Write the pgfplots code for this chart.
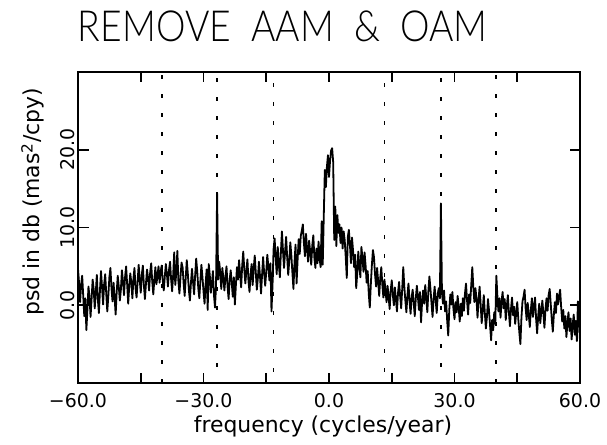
\documentclass[border=0pt]{standalone}
\usepackage{fontspec}
\setmainfont{DejaVu Sans}
\newfontfamily\titlefont{Lato Light}[FakeStretch=0.87]
\usepackage{pgfplots}
\pgfplotsset{compat=1.18}

\begin{document}
\begin{tikzpicture}
\begin{axis}[
  scale only axis, width=502bp, height=311bp,
  at={(0,0)}, anchor=south west,
  xmin=-60, xmax=60, ymin=-10, ymax=30,
  xtick={-60,-45,...,60},
  xticklabels={−60.0,,−30.0,,0.0,,30.0,,60.0},
  ytick={0,10,20}, yticklabels={0.0,10.0,20.0},
  tick align=inside, xtick pos=both, ytick pos=both,
  xticklabel pos=lower, yticklabel pos=left,
  major tick length=10.5bp,
  tick style={black, line width=1.6bp},
  axis line style={line width=2.2bp},
  xticklabel style={font=\fontsize{19}{22}\selectfont, anchor=base, yshift=-24bp},
  yticklabel style={font=\fontsize{19}{22}\selectfont, xshift=-3bp, rotate=90, anchor=base},
  xlabel={frequency (cycles/year)},
  xlabel style={at={(axis description cs:0.488,0)}, anchor=base, yshift=-49bp,
    font=\fontsize{22}{26}\selectfont},
  ylabel={psd in db (mas\textsuperscript{2}/cpy)},
  ylabel style={at={([xshift=-38bp]axis description cs:0,0.582)}, anchor=base,
    font=\fontsize{22}{26}\selectfont},
  title={REMOVE\ \ AAM\ \ \&\ \ OAM},
  title style={at={(axis description cs:0.408,1)}, anchor=base, yshift=25bp,
    font=\titlefont\fontsize{43}{50}\selectfont},
]
% tidal reference frequencies (cycles/year)
\addplot[black, mark=none, line width=2bp, dash pattern=on 4bp off 15bp] coordinates {(-40,-10)(-40,30)};
\addplot[black, mark=none, line width=2bp, dash pattern=on 4bp off 15bp] coordinates {(40,-10)(40,30)};
\addplot[black, mark=none, line width=2bp, dash pattern=on 4bp off 15bp, dash phase=3bp] coordinates {(-26.75,-10)(-26.75,30)};
\addplot[black, mark=none, line width=2bp, dash pattern=on 4bp off 15bp, dash phase=3bp] coordinates {(26.75,-10)(26.75,30)};
\addplot[black, mark=none, line width=1.7bp, dash pattern=on 3.5bp off 15.5bp, dash phase=8bp] coordinates {(-13.3,-10)(-13.3,30)};
\addplot[black, mark=none, line width=1.7bp, dash pattern=on 3.5bp off 15.5bp, dash phase=8bp] coordinates {(13.3,-10)(13.3,30)};

% power spectral density, dB
\addplot[black, mark=none, line width=1.8bp, line join=round] coordinates {
(-60,4.7)(-59.75,2.9)(-59.5,0.4)(-59.25,2.6)(-59,3.8)(-58.75,1.2)(-58.5,-1.4)(-58.25,0.9)(-58,-3.2)(-57.75,-0.6)
(-57.5,2.4)(-57.25,1.1)(-57,-1.5)(-56.75,0.8)(-56.5,3.3)(-56.25,2.1)(-56,-0.4)(-55.75,1.6)(-55.5,3.9)(-55.25,0.7)
(-55,-1.0)(-54.75,1.9)(-54.5,4.4)(-54.25,2.3)(-54,0.1)(-53.75,2.7)(-53.5,4.0)(-53.25,1.5)(-53,-0.8)(-52.75,1.2)
(-52.5,3.6)(-52.25,4.8)(-52,2.2)(-51.75,0.5)(-51.5,2.9)(-51.25,1.0)(-51,-1.2)(-50.75,1.7)(-50.5,3.8)(-50.25,2.4)
(-50,0.6)(-49.75,2.0)(-49.5,4.5)(-49.25,3.1)(-49,1.3)(-48.75,3.6)(-48.5,5.0)(-48.25,2.7)(-48,0.2)(-47.75,2.5)
(-47.5,4.1)(-47.25,2.9)(-47,0.9)(-46.75,3.4)(-46.5,4.8)(-46.25,2.2)(-46,1.0)(-45.75,3.0)(-45.5,5.2)(-45.25,3.3)
(-45,1.6)(-44.75,3.9)(-44.5,5.1)(-44.25,2.6)(-44,0.8)(-43.75,2.8)(-43.5,4.6)(-43.25,3.5)(-43,1.9)(-42.75,4.2)
(-42.5,5.4)(-42.25,3.0)(-42,1.4)(-41.75,3.3)(-41.5,4.9)(-41.25,2.7)(-41,3.8)(-40.75,5.0)(-40.5,2.9)(-40.25,4.3)
(-40,5.1)(-39.75,3.2)(-39.5,1.9)(-39.25,3.7)(-39,5.3)(-38.75,4.0)(-38.5,2.4)(-38.25,4.5)(-38,5.6)(-37.75,3.4)
(-37.5,1.8)(-37.25,3.9)(-37,6.8)(-36.75,2.6)(-36.5,4.2)(-36.25,7.0)(-36,3.1)(-35.75,1.5)(-35.5,3.6)(-35.25,5.5)
(-35,4.9)(-34.75,2.8)(-34.5,1.2)(-34.25,3.5)(-34,5.8)(-33.75,4.1)(-33.5,2.0)(-33.25,0.6)(-33,2.9)(-32.75,4.7)
(-32.5,3.0)(-32.25,1.4)(-32,3.8)(-31.75,6.0)(-31.5,4.4)(-31.25,2.2)(-31,0.9)(-30.75,3.1)(-30.5,5.2)(-30.25,3.6)
(-30,1.8)(-29.75,0.2)(-29.5,2.7)(-29.25,4.6)(-29,-0.6)(-28.75,5.3)(-28.5,3.9)(-28.25,1.6)(-28,2.8)(-27.75,4.4)
(-27.5,1.3)(-27.25,-0.3)(-27,2.6)(-26.75,14.4)(-26.5,3.3)(-26.25,5.6)(-26,4.2)(-25.75,2.1)(-25.5,4.8)(-25.25,3.5)
(-25,1.9)(-24.75,3.7)(-24.5,5.0)(-24.25,2.4)(-24,0.8)(-23.75,3.2)(-23.5,4.5)(-23.25,2.9)(-23,1.1)(-22.75,3.6)
(-22.5,0.1)(-22.25,2.7)(-22,4.9)(-21.75,3.3)(-21.5,5.8)(-21.25,4.0)(-21,2.3)(-20.75,5.1)(-20.5,6.9)(-20.25,4.6)
(-20,2.8)(-19.75,4.4)(-19.5,5.9)(-19.25,3.1)(-19,1.7)(-18.75,4.0)(-18.5,5.3)(-18.25,2.6)(-18,4.7)(-17.75,6.4)
(-17.5,4.2)(-17.25,2.0)(-17,3.5)(-16.75,5.6)(-16.5,3.8)(-16.25,1.5)(-16,3.9)(-15.75,6.2)(-15.5,4.1)(-15.25,2.5)
(-15,4.3)(-14.75,6.5)(-14.5,5.0)(-14.25,3.2)(-14,5.4)(-13.75,-0.8)(-13.5,2.6)(-13.25,7.2)(-13,8.6)(-12.75,6.1)
(-12.5,4.0)(-12.25,7.5)(-12,5.3)(-11.75,3.6)(-11.5,6.8)(-11.25,9.5)(-11,7.0)(-10.75,4.8)(-10.5,6.9)(-10.25,8.8)
(-10,6.2)(-9.75,3.9)(-9.5,5.7)(-9.25,8.1)(-9,6.4)(-8.75,4.2)(-8.5,2.1)(-8.25,5.5)(-8,7.8)(-7.75,2.8)
(-7.5,5.9)(-7.25,8.5)(-7,6.6)(-6.75,8.9)(-6.5,9.6)(-6.25,10.4)(-6,8.0)(-5.75,6.3)(-5.5,9.2)(-5.25,7.4)
(-5,5.6)(-4.75,8.3)(-4.5,6.9)(-4.25,5.2)(-4,7.7)(-3.75,9.0)(-3.5,6.1)(-3.25,4.8)(-3,7.3)(-2.75,5.4)
(-2.5,8.2)(-2.25,6.0)(-2,4.9)(-1.75,10.8)(-1.5,5.2)(-1.25,11.5)(-1,17.4)(-0.75,15.2)(-0.5,17.8)(-0.25,19.3)
(0,16.5)(0.25,18.6)(0.5,19.9)(0.75,20.2)(1,18.4)(1.25,8.4)(1.5,12.7)(1.75,7.6)(2,11.6)(2.25,9.3)
(2.5,10.4)(2.75,8.0)(3,10.0)(3.25,7.3)(3.5,9.5)(3.75,8.4)(4,6.2)(4.25,3.5)(4.5,8.8)(4.75,9.7)
(5,7.8)(5.25,5.4)(5.5,8.7)(5.75,7.0)(6,4.9)(6.25,6.5)(6.5,2.2)(6.75,4.1)(7,6.9)(7.25,5.0)
(7.5,3.6)(7.75,7.5)(8,6.0)(8.25,4.3)(8.5,6.8)(8.75,5.1)(9,2.9)(9.25,4.4)(9.5,1.5)(9.75,-0.3)
(10,2.7)(10.25,5.2)(10.5,7.1)(10.75,6.2)(11,4.0)(11.25,2.4)(11.5,4.8)(11.75,3.1)(12,1.2)(12.25,3.5)
(12.5,4.9)(12.75,2.6)(13,1.0)(13.25,3.3)(13.5,2.0)(13.75,0.4)(14,2.5)(14.25,1.1)(14.5,-0.5)(14.75,1.9)
(15,3.2)(15.25,1.4)(15.5,0.0)(15.75,2.3)(16,0.7)(16.25,-0.8)(16.5,1.6)(16.75,3.0)(17,1.2)(17.25,-0.4)
(17.5,2.1)(17.75,4.9)(18,2.4)(18.25,0.6)(18.5,-0.9)(18.75,1.3)(19,2.8)(19.25,0.5)(19.5,-1.1)(19.75,1.0)
(20,2.0)(20.25,0.3)(20.5,-1.4)(20.75,0.9)(21,2.5)(21.25,1.1)(21.5,-0.6)(21.75,1.7)(22,-2.2)(22.25,0.4)
(22.5,1.9)(22.75,0.2)(23,2.6)(23.25,1.0)(23.5,-0.9)(23.75,1.8)(24,3.7)(24.25,2.1)(24.5,0.3)(24.75,-1.5)
(25,0.8)(25.25,2.4)(25.5,0.6)(25.75,-1.0)(26,1.5)(26.25,2.2)(26.5,0.9)(26.75,13.1)(27,1.6)(27.25,0.2)
(27.5,1.9)(27.75,-0.8)(28,0.5)(28.25,-2.0)(28.5,-3.9)(28.75,-0.6)(29,1.4)(29.25,0.1)(29.5,1.7)(29.75,-0.5)
(30,-1.8)(30.25,0.4)(30.5,-0.9)(30.75,1.2)(31,-0.3)(31.25,-2.1)(31.5,0.2)(31.75,-1.4)(32,0.9)(32.25,-0.7)
(32.5,1.5)(32.75,2.8)(33,0.6)(33.25,-1.2)(33.5,1.4)(33.75,0.3)(34,2.6)(34.25,4.9)(34.5,2.3)(34.75,0.4)
(35,2.2)(35.25,0.9)(35.5,-1.6)(35.75,0.7)(36,2.4)(36.25,0.1)(36.5,-2.3)(36.75,-0.6)(37,1.3)(37.25,-1.0)
(37.5,-3.0)(37.75,-1.5)(38,0.8)(38.25,-0.7)(38.5,-2.6)(38.75,-4.5)(39,-1.9)(39.25,-3.2)(39.5,-0.9)(39.75,-2.4)
(40,3.8)(40.25,1.2)(40.5,-0.8)(40.75,0.9)(41,-1.6)(41.25,0.5)(41.5,1.7)(41.75,-0.4)(42,0.8)(42.25,-1.9)
(42.5,-0.2)(42.75,1.3)(43,-0.9)(43.25,-2.7)(43.5,-0.5)(43.75,1.0)(44,-1.3)(44.25,-0.2)(44.5,-2.4)(44.75,-1.0)
(45,0.4)(45.25,-1.8)(45.5,-3.5)(45.75,-5.0)(46,-1.6)(46.25,0.5)(46.5,1.1)(46.75,2.0)(47,-0.4)(47.25,-1.9)
(47.5,0.3)(47.75,-1.2)(48,-2.8)(48.25,-0.6)(48.5,0.9)(48.75,-1.5)(49,-0.2)(49.25,1.0)(49.5,-1.7)(49.75,-3.6)
(50,-1.4)(50.25,0.2)(50.5,-2.3)(50.75,-0.8)(51,0.6)(51.25,-1.1)(51.5,-2.9)(51.75,-0.5)(52,0.9)(52.25,-0.7)
(52.5,1.3)(52.75,2.1)(53,0.2)(53.25,-1.8)(53.5,-3.4)(53.75,-1.2)(54,0.4)(54.25,-1.0)(54.5,1.5)(54.75,0.1)
(55,1.2)(55.25,2.0)(55.5,-0.3)(55.75,-2.1)(56,-0.6)(56.25,-3.0)(56.5,-1.4)(56.75,-4.1)(57,-2.2)(57.25,-0.9)
(57.5,-3.3)(57.75,-1.7)(58,-4.4)(58.25,-2.5)(58.5,-1.2)(58.75,-3.8)(59,-2.0)(59.25,-4.6)(59.5,0.5)(59.75,-1.6)(60,-4.6)
};
\end{axis}
\pgfresetboundingbox
\path[use as bounding box] (-78bp,-62bp) rectangle (529bp,383bp);
\end{tikzpicture}
\end{document}
